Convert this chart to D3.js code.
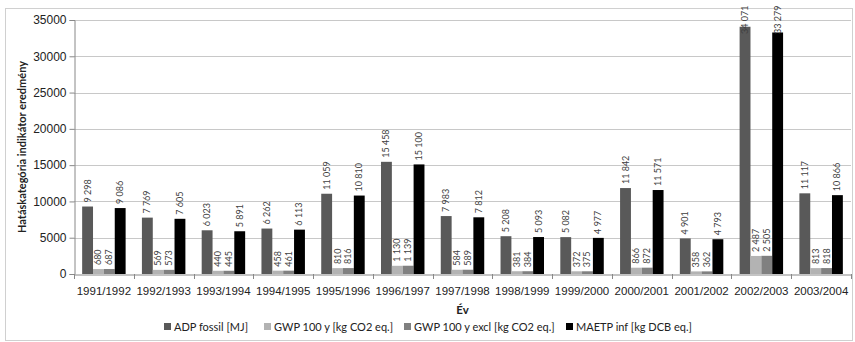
<!DOCTYPE html>
<html>
<head>
<meta charset="utf-8">
<script src="https://cdn.jsdelivr.net/npm/d3@7"></script>
<style>
	body { margin: 0; background: #fff; }
	svg { font-family: Lato, "Open Sans", sans-serif; }
</style>
</head>
<body>
<div id="chart"></div>
<script>

var years = ["1991/1992", "1992/1993", "1993/1994", "1994/1995", "1995/1996", "1996/1997", "1997/1998",
	"1998/1999", "1999/2000", "2000/2001", "2001/2002", "2002/2003", "2003/2004"];

var seriesNames = ["ADP fossil [MJ]", "GWP 100 y [kg CO2 eq.]", "GWP 100 y excl [kg CO2 eq.]", "MAETP inf [kg DCB eq.]"];
var seriesColors = ["#595959", "#b3b3b3", "#808080", "#000000"];

var adpFossil = [9298, 7769, 6023, 6262, 11059, 15458, 7983, 5208, 5082, 11842, 4901, 34071, 11117];
var gwp100 = [680, 569, 440, 458, 810, 1130, 584, 381, 372, 866, 358, 2487, 813];
var gwp100Excl = [687, 573, 445, 461, 816, 1139, 589, 384, 375, 872, 362, 2505, 818];
var maetpInf = [9086, 7605, 5891, 6113, 10810, 15100, 7812, 5093, 4977, 11571, 4793, 33279, 10866];

var yTicks = [0, 5000, 10000, 15000, 20000, 25000, 30000, 35000];

var W = 855, H = 342;
var plot = { left: 74, right: 851, top: 20, bottom: 274 };

var svg = d3.select("#chart").append("svg").attr("width", W).attr("height", H);

// chart border
svg.append("rect").attr("x", 5.5).attr("y", 8.5).attr("width", W - 8).attr("height", H - 10)
	.attr("fill", "none").attr("stroke", "#d0d0d0");

var x = d3.scaleBand().domain(years).range([plot.left, plot.right]).paddingInner(0).paddingOuter(0);
var y = d3.scaleLinear().domain([0, 35000]).range([plot.bottom, plot.top]);

// gridlines
svg.append("g").selectAll("line").data(yTicks.slice(1)).enter().append("line")
	.attr("x1", plot.left).attr("x2", plot.right)
	.attr("y1", function(d){ return Math.round(y(d)) + 0.5; })
	.attr("y2", function(d){ return Math.round(y(d)) + 0.5; })
	.attr("stroke", "#c8c8c8");

// y axis
var yAxis = svg.append("g").attr("transform", "translate(" + (plot.left + 0.5) + ",0)")
	.call(d3.axisLeft(y).tickValues(yTicks).tickSize(5).tickFormat(d3.format("d")));
yAxis.select(".domain").attr("stroke", "#888");
yAxis.selectAll(".tick line").attr("stroke", "#888");
yAxis.selectAll("text").attr("font-size", 12).attr("fill", "#222").attr("x", -8);

// x axis
var xAxis = svg.append("g").attr("transform", "translate(0," + (plot.bottom + 0.5) + ")")
	.call(d3.axisBottom(x).tickSize(0).tickPadding(12));
xAxis.select(".domain").attr("stroke", "#888");
xAxis.selectAll("text").attr("font-size", 11.5).attr("fill", "#222");

// category separator ticks
svg.append("g").selectAll("line").data(years.concat(["end"])).enter().append("line")
	.attr("x1", function(d, i){ return Math.round(plot.left + i * x.bandwidth()) + 0.5; })
	.attr("x2", function(d, i){ return Math.round(plot.left + i * x.bandwidth()) + 0.5; })
	.attr("y1", plot.bottom).attr("y2", plot.bottom + 5)
	.attr("stroke", "#888");

var allSeries = [adpFossil, gwp100, gwp100Excl, maetpInf];

// bar width ~ bandwidth / 5.5 (gap width 150%)
var barW = x.bandwidth() / 5.5;
var groupOffset = (x.bandwidth() - 4 * barW) / 2;

var fmt = function(v){ return d3.format(",")(v).replace(/,/g, " "); };

allSeries.forEach(function(vals, s){
	var g = svg.append("g");
	g.selectAll("rect").data(vals).enter().append("rect")
		.attr("x", function(d, i){ return x(years[i]) + groupOffset + s * barW; })
		.attr("y", function(d){ return y(d); })
		.attr("width", barW)
		.attr("height", function(d){ return plot.bottom - y(d); })
		.attr("fill", seriesColors[s]);

	g.selectAll("text").data(vals).enter().append("text")
		.attr("transform", function(d, i){
			var cx = x(years[i]) + groupOffset + s * barW + barW / 2 + 3;
			var ty = Math.max(y(d) - 4, 34);
			return "translate(" + cx + "," + ty + ") rotate(-90)";
		})
		.attr("font-size", 9).attr("fill", "#404040")
		.text(function(d){ return fmt(d); });
});

// axis titles
svg.append("text").attr("transform", "translate(26," + ((plot.top + plot.bottom) / 2) + ") rotate(-90)")
	.attr("text-anchor", "middle").attr("font-size", 11).attr("font-weight", "bold").attr("fill", "#222")
	.text("Hatáskategória indikátor eredmény");

svg.append("text").attr("x", (plot.left + plot.right) / 2).attr("y", 314)
	.attr("text-anchor", "middle").attr("font-size", 11.5).attr("font-weight", "bold").attr("fill", "#222")
	.text("Év");

// legend
var legendX = [164, 264, 404, 566];
var legend = svg.append("g").selectAll("g").data(seriesNames).enter().append("g")
	.attr("transform", function(d, i){ return "translate(" + legendX[i] + ",327)"; });
legend.append("rect").attr("x", 0).attr("y", -4).attr("width", 7).attr("height", 7)
	.attr("fill", function(d, i){ return seriesColors[i]; });
legend.append("text").attr("x", 10).attr("y", 3.5).attr("font-size", 11).attr("fill", "#222")
	.text(function(d){ return d; });

</script>
</body>
</html>
